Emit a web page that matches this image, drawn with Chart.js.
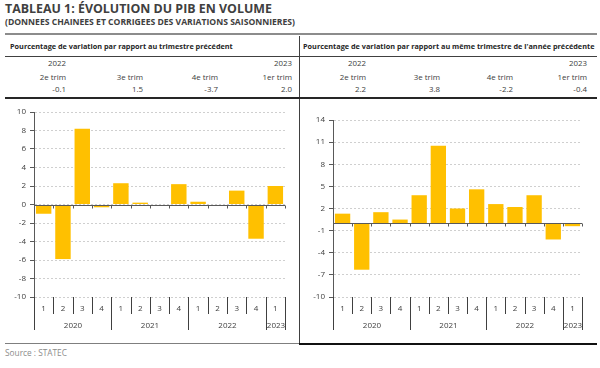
<!DOCTYPE html>
<html><head><meta charset="utf-8">
<script src="https://cdn.jsdelivr.net/npm/chart.js@4"></script>
<style>
body{margin:0;width:600px;height:368px;background:#fff;position:relative;overflow:hidden;font-family:"Open Sans",sans-serif;color:#404040}
.t{position:absolute;white-space:nowrap;line-height:1}
.ln{position:absolute}
canvas{position:absolute}
</style></head><body>
<div class="t" style="left:5px;top:3px;font-size:12.4px;font-weight:700;color:#404040">TABLEAU 1: ÉVOLUTION DU PIB EN VOLUME</div>
<div class="t" style="left:5px;top:18px;font-size:8.6px;font-weight:700;color:#404040">(DONNEES CHAINEES ET CORRIGEES DES VARIATIONS SAISONNIERES)</div>
<div class="ln" style="left:5px;top:33px;width:592px;height:2px;background:#8c8c8c"></div>
<div class="t" style="left:10px;top:43px;font-size:7.3px;font-weight:700;color:#262626">Pourcentage de variation par rapport au trimestre précédent</div>
<div class="t" style="left:303px;top:43px;font-size:7.3px;font-weight:700;color:#262626">Pourcentage de variation par rapport au même trimestre de l'année précédente</div>
<div class="ln" style="left:5px;top:56px;width:592px;height:1px;background:#404040"></div>
<div class="ln" style="left:299px;top:36px;width:1px;height:308px;background:#404040"></div>
<div class="ln" style="left:5px;top:97px;width:592px;height:1.5px;background:#262626"></div>
<div class="ln" style="left:5px;top:343px;width:294px;height:1px;background:#7f7f7f"></div>
<div class="ln" style="left:299px;top:343px;width:298px;height:2px;background:#111"></div>
<div class="t" style="left:5px;top:349px;font-size:8.3px;color:#8c8c8c">Source : STATEC</div>
<div id="tbl"></div>
<canvas id="c1" width="297" height="240" style="left:0;top:100px;width:297px;height:240px"></canvas>
<canvas id="c2" width="296" height="240" style="left:301px;top:100px;width:296px;height:240px"></canvas>
<script>
// ---- data ----
const quarters = ['1','2','3','4','1','2','3','4','1','2','3','4','1'];
const quarterYears = ['2020','2020','2020','2020','2021','2021','2021','2021','2022','2022','2022','2022','2023'];
const qoqValues = [-1.0, -5.9, 8.2, -0.3, 2.3, 0.2, -0.1, 2.2, 0.3, -0.1, 1.5, -3.7, 2.0];
const yoyValues = [1.3, -6.3, 1.5, 0.5, 3.8, 10.5, 2.0, 4.6, 2.6, 2.2, 3.8, -2.2, -0.4];
const qoqTicks = [-10, -8, -6, -4, -2, 0, 2, 4, 6, 8, 10];
const yoyTicks = [-10, -7, -4, -1, 2, 5, 8, 11, 14];
const tableYears = ['2022', '', '', '2023'];
const tableQuarters = ['2e trim', '3e trim', '4e trim', '1er trim'];
const qoqLatest = ['-0.1', '1.5', '-3.7', '2.0'];
const yoyLatest = ['2.2', '3.8', '-2.2', '-0.4'];

// ---- table ----
const tbl = document.getElementById('tbl');
function cell(txt, right, top){
  const d = document.createElement('div');
  d.className = 't';
  d.style.cssText = `right:${600-right}px;top:${top}px;font-size:7.9px;color:#404040;text-align:right`;
  d.textContent = txt;
  tbl.appendChild(d);
}
const leftCols = [66, 143, 218, 292];
const rightCols = [366, 440, 513, 587];
[[leftCols, qoqLatest],[rightCols, yoyLatest]].forEach(([cols, vals])=>{
  cols.forEach((r,i)=>{
    cell(tableYears[i], r, 60);
    cell(tableQuarters[i], r, 74);
    cell(vals[i], r, 86);
  });
});

// ---- decoration plugin (zero axis, multi-level category axis) ----
const deco = {
  id: 'deco',
  afterDatasetsDraw(chart){
    const {ctx, chartArea: a, scales: {x, y}} = chart;
    const n = chart.data.labels.length;
    const step = x.getPixelForValue(1) - x.getPixelForValue(0);
    const bnd = i => Math.round(x.getPixelForValue(i) - step/2) + 0.5;
    const y0 = Math.round(y.getPixelForValue(0)) + 0.5;
    ctx.save();
    ctx.strokeStyle = '#595959'; ctx.lineWidth = 1;
    ctx.beginPath();
    ctx.moveTo(a.left, y0); ctx.lineTo(a.right, y0);
    for (let i = 0; i <= n; i++){ const px = bnd(i); ctx.moveTo(px, y0); ctx.lineTo(px, y0 + 3); }
    ctx.stroke();
    // separators
    ctx.strokeStyle = '#404040';
    ctx.beginPath();
    const yb = a.bottom;
    for (let i = 0; i <= n; i++){
      const long = i === 0 || i === n || quarterYears[i] !== quarterYears[i-1];
      const px = bnd(i);
      ctx.moveTo(px, yb); ctx.lineTo(px, yb + (long ? 33 : 17));
    }
    ctx.stroke();
    // year labels
    ctx.fillStyle = '#404040';
    ctx.font = '8px "Open Sans"';
    ctx.textAlign = 'center'; ctx.textBaseline = 'middle';
    let s = 0;
    for (let i = 1; i <= n; i++){
      if (i === n || quarterYears[i] !== quarterYears[s]){
        const cx = (bnd(s) + bnd(i)) / 2;
        ctx.fillText(quarterYears[s], cx, yb + 29);
        s = i;
      }
    }
    ctx.restore();
  }
};

function makeChart(id, values, ticks, yWidth, padRight, padTop){
  return new Chart(document.getElementById(id), {
    type: 'bar',
    data: { labels: quarters, datasets: [{ data: values, backgroundColor: '#FFC000', categoryPercentage: 1, barPercentage: 0.8 }] },
    options: {
      responsive: false, animation: false,
      plugins: { legend: { display: false }, tooltip: { enabled: false } },
      layout: { padding: { left: 0, right: padRight, top: padTop, bottom: 0 } },
      scales: {
        x: {
          grid: { display: false, drawTicks: false },
          border: { display: false },
          ticks: { color: '#404040', font: { family: 'Open Sans', size: 8 }, padding: 7, maxRotation: 0, autoSkip: false },
          afterFit: s => { s.height = 43; }
        },
        y: {
          min: ticks[0], max: ticks[ticks.length-1],
          afterBuildTicks: s => { s.ticks = ticks.map(v => ({ value: v })); },
          grid: { color: '#cfcfcf', tickLength: 4, tickColor: '#595959', tickBorderDash: [] },
          border: { color: '#595959', width: 1, dash: [2, 2] },
          ticks: { color: '#404040', font: { family: 'Open Sans', size: 8 }, padding: 4 },
          afterFit: s => { s.width = yWidth; }
        }
      }
    },
    plugins: [deco]
  });
}
makeChart('c1', qoqValues, qoqTicks, 34, 12, 12);
makeChart('c2', yoyValues, yoyTicks, 32, 15, 20);
</script>
</body></html>
